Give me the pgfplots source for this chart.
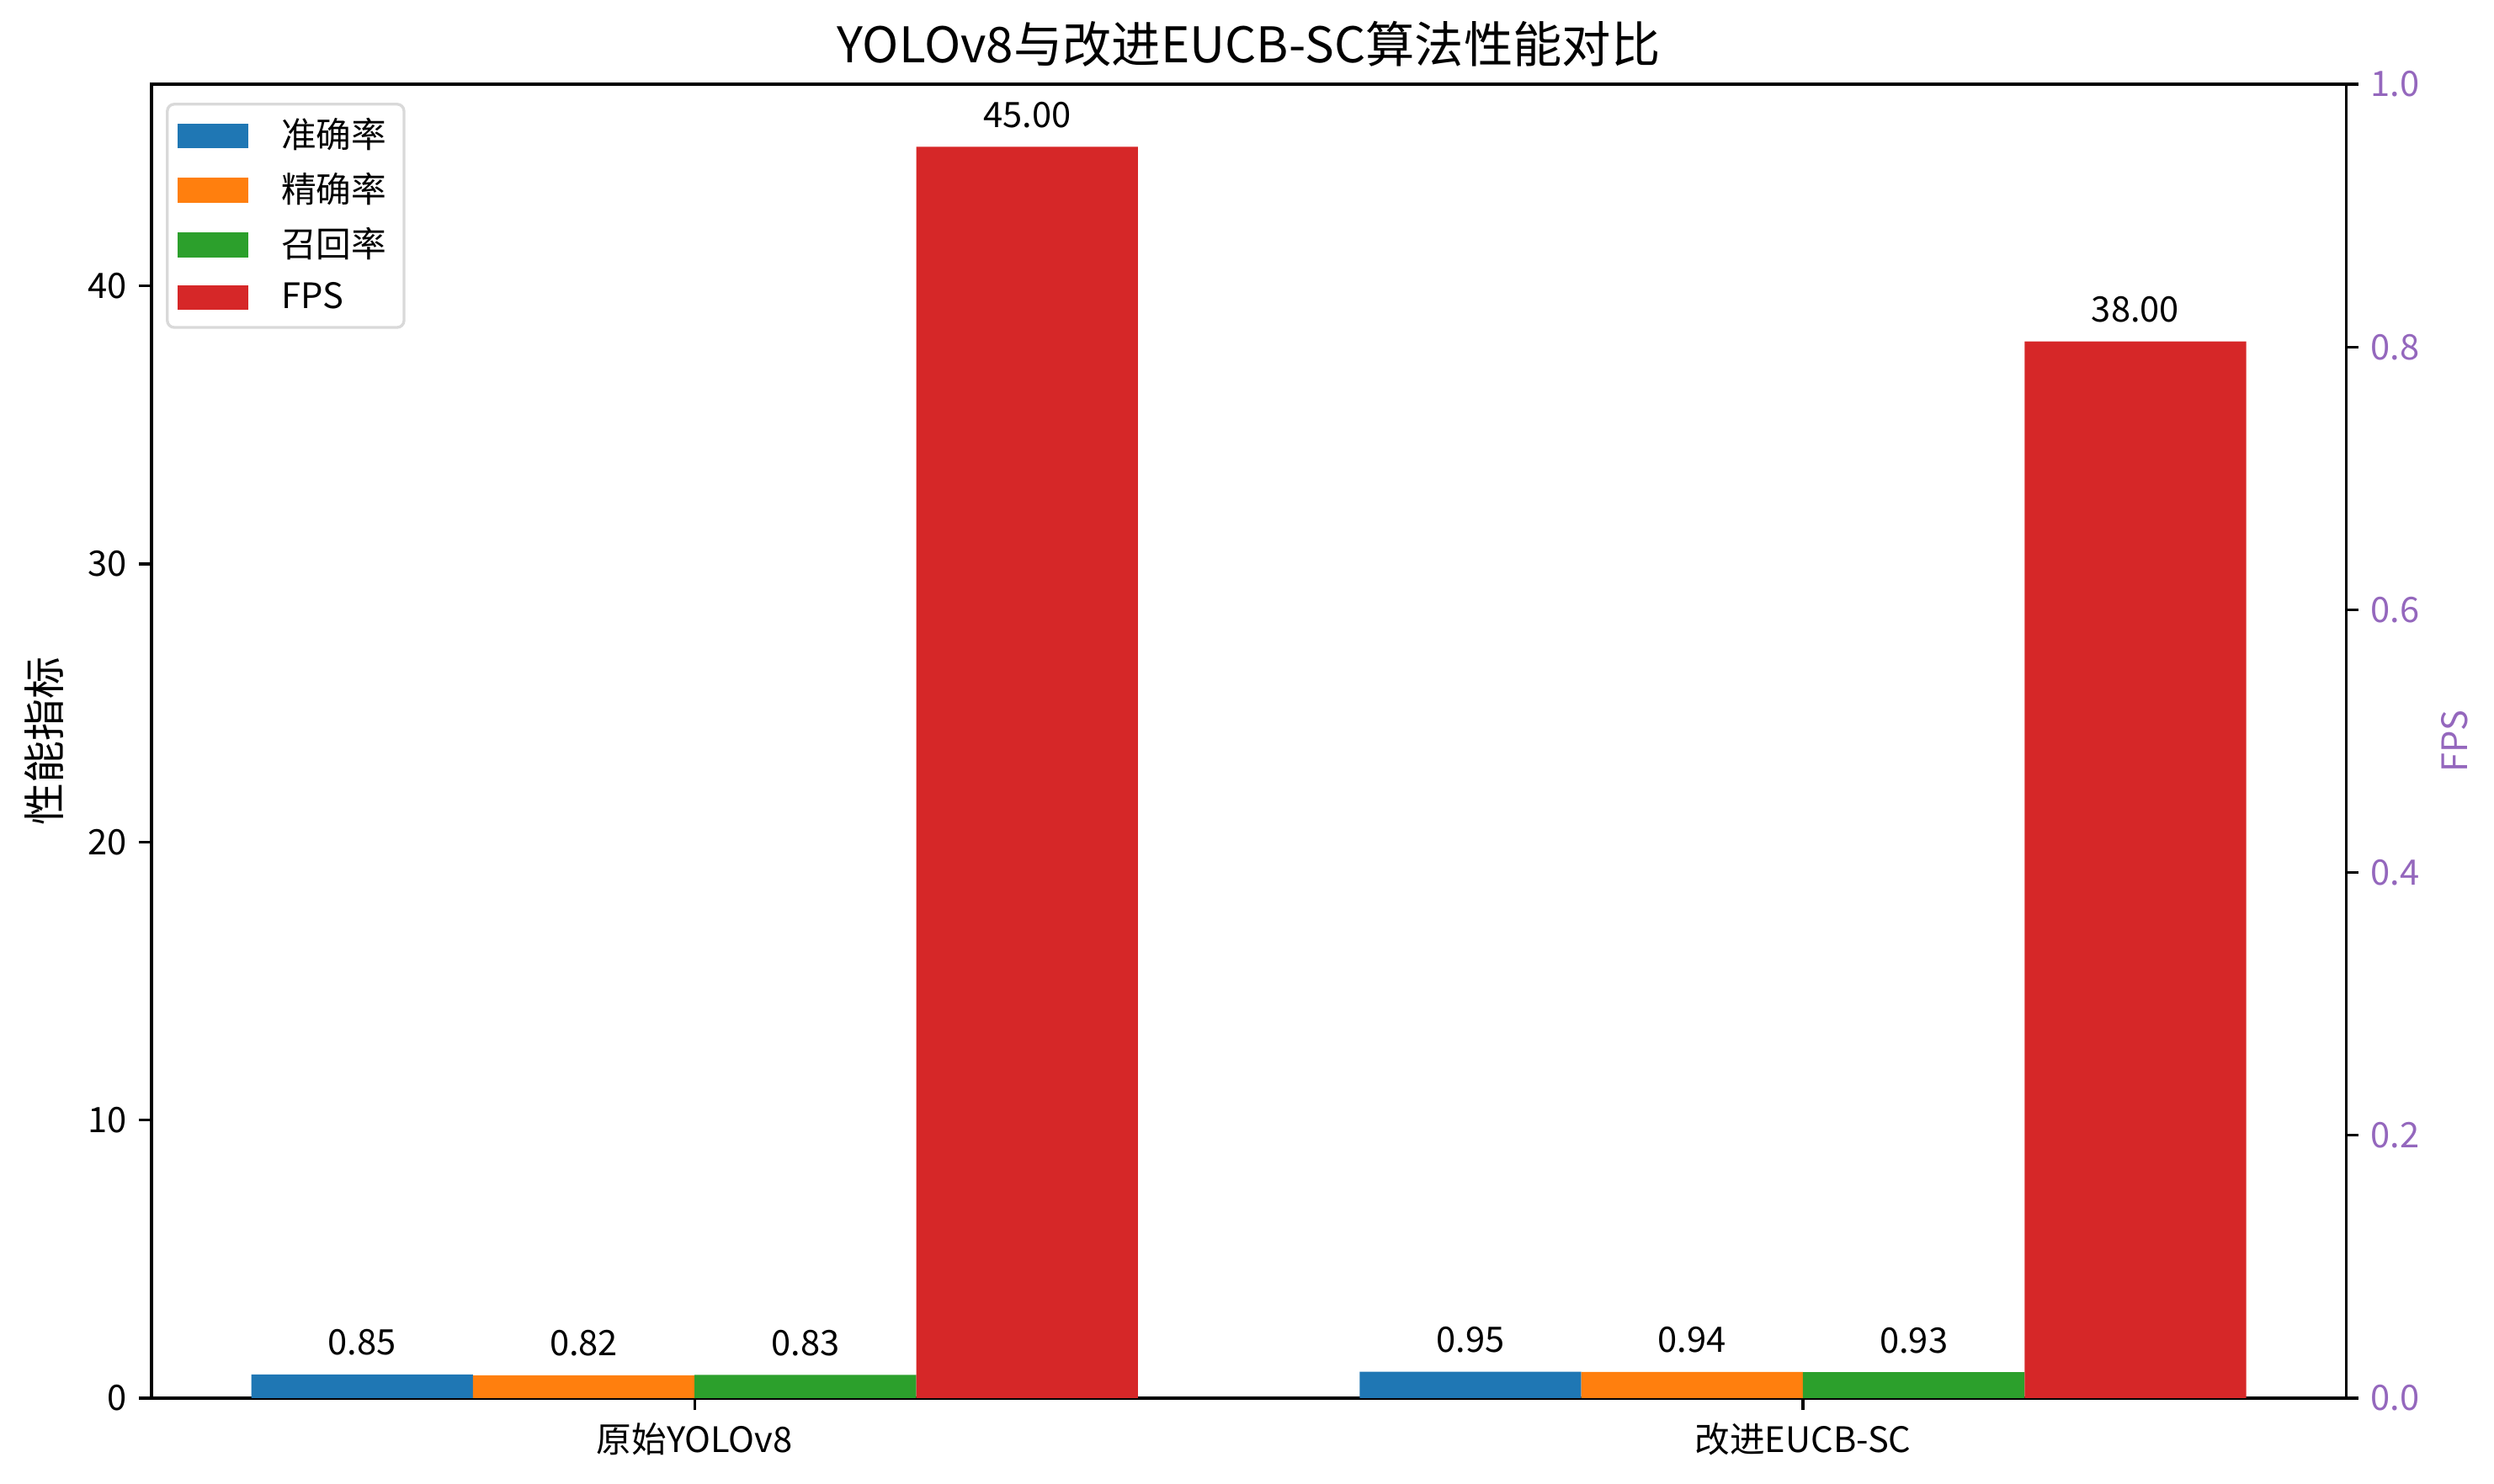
\documentclass[border=0pt]{standalone}
\usepackage{fontspec}
\setmainfont{Noto Sans CJK SC}
\usepackage{pgfplots}
\pgfplotsset{compat=1.18}
\definecolor{cblue}{HTML}{1F77B4}
\definecolor{corange}{HTML}{FF7F0E}
\definecolor{cgreen}{HTML}{2CA02C}
\definecolor{cred}{HTML}{D62728}
\definecolor{cpurple}{HTML}{9467BD}
\newcommand{\ften}{\fontsize{10}{12}\selectfont}
\newcommand{\ftwelve}{\fontsize{12}{14}\selectfont}
\newcommand{\ffourteen}{\fontsize{14}{17}\selectfont}
\begin{document}
\begin{tikzpicture}
\path[use as bounding box] (-43.2pt,-24.5pt) rectangle (667.9pt,398.6pt);
\begin{axis}[
  at={(0,0)}, anchor=south west,
  scale only axis, width=625.7pt, height=374.6pt,
  xmin=-0.49, xmax=1.49, ymin=0, ymax=47.25,
  axis line style={line width=0.8pt},
  tick style={line width=0.8pt, black},
  tick align=outside, major tick length=3.5pt,
  xtick pos=bottom, ytick pos=left,
  xtick={0,1}, xticklabels={原始YOLOv8, 改进EUCB-SC},
  ytick={0,10,20,30,40},
  ticklabel style={font=\ften},
  /pgf/number format/assume math mode=true,
  ylabel={性能指标},
  every axis y label/.style={at={(-30.7pt,187.3pt)}, rotate=90, anchor=center, font=\ftwelve},
  title={YOLOv8与改进EUCB-SC算法性能对比},
  every axis title/.style={at={(312.85pt,374.6pt)}, anchor=base, yshift=6pt, font=\ffourteen, inner sep=0pt},
  ybar, bar width=0.2, bar shift=0pt,
  legend image code/.code={\fill[#1, sharp corners] (0pt,-3.5pt) rectangle (20pt,3.5pt);},
  legend style={at={(0,1)}, anchor=north west, xshift=4.1pt, yshift=-5.3pt,
    draw=black!15, line width=0.8pt, rounded corners=2pt, font=\ften,
    inner xsep=3pt, inner ysep=2pt, row sep=1.6pt,
    /tikz/every even column/.append style={column sep=4pt},
    /tikz/every odd column/.append style={column sep=7.5pt}},
  legend cell align=left,
  nodes near coords={\pgfmathprintnumber[fixed,fixed zerofill,precision=2,assume math mode=true]{\pgfplotspointmeta}},
  every node near coord/.append style={font=\ften, anchor=base, yshift=5.5pt, black},
]
\addplot[fill=cblue, draw=none] coordinates {(-0.3,0.85) (0.7,0.95)};
\addlegendentry{准确率}
\addplot[fill=corange, draw=none] coordinates {(-0.1,0.82) (0.9,0.94)};
\addlegendentry{精确率}
\addplot[fill=cgreen, draw=none] coordinates {(0.1,0.83) (1.1,0.93)};
\addlegendentry{召回率}
\addplot[fill=cred, draw=none] coordinates {(0.3,45) (1.3,38)};
\addlegendentry{FPS}
\end{axis}
\begin{axis}[
  at={(0,0)}, anchor=south west,
  scale only axis, width=625.7pt, height=374.6pt,
  xmin=-0.49, xmax=1.49, ymin=0, ymax=1,
  axis x line=none, axis y line*=right,
  axis line style={line width=0.8pt, -},
  tick style={line width=0.8pt, black},
  tick align=outside, major tick length=3.5pt,
  ytick={0,0.2,0.4,0.6,0.8,1.0},
  yticklabel style={font=\ften, color=cpurple, /pgf/number format/.cd, fixed, fixed zerofill, precision=1},
  /pgf/number format/assume math mode=true,
  ylabel={FPS},
  every axis y label/.style={at={(656.7pt,187.3pt)}, rotate=90, anchor=center, font=\ften, color=cpurple},
]
\end{axis}
\end{tikzpicture}
\end{document}
